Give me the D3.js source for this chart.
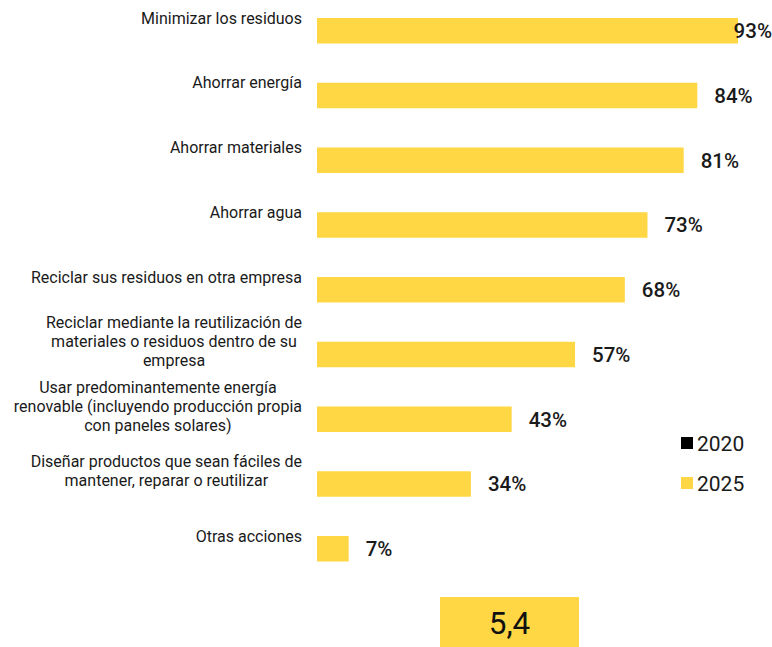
<!DOCTYPE html>
<html>
<head>
<meta charset="utf-8">
<script src="https://cdn.jsdelivr.net/npm/d3@7"></script>
<style>
  body { margin: 0; background: #fff; }
  text { font-family: Roboto, "Noto Sans", sans-serif; }
</style>
</head>
<body>
<script>
const width = 772;
const height = 647;

const categories = [
  "Minimizar los residuos",
  "Ahorrar energía",
  "Ahorrar materiales",
  "Ahorrar agua",
  "Reciclar sus residuos en otra empresa",
  "Reciclar mediante la reutilización de\nmateriales o residuos dentro de su\nempresa",
  "Usar predominantemente energía\nrenovable (incluyendo producción propia\ncon paneles solares)",
  "Diseñar productos que sean fáciles de\nmantener, reparar o reutilizar",
  "Otras acciones"
];
const values2025 = [93, 84, 81, 73, 68, 57, 43, 34, 7];
const legendKeys = ["2020", "2025"];
const legendColors = ["#000000", "#ffd744"];
const scoreLabel = "5,4";

const yellow = "#ffd744";

const svg = d3.select("body").append("svg")
  .attr("width", width)
  .attr("height", height);

const x = d3.scaleLinear()
  .domain([0, 100])
  .range([317, 317 + 452.7]);

const y = d3.scaleBand()
  .domain(categories)
  .range([18, 561.5])
  .paddingInner(0.606)
  .paddingOuter(0);

const rows = categories.map((c, i) => ({cat: c, value: values2025[i]}));

// bars
svg.append("g")
  .selectAll("rect")
  .data(rows)
  .join("rect")
  .attr("x", x(0))
  .attr("y", d => y(d.cat))
  .attr("width", d => x(d.value) - x(0))
  .attr("height", y.bandwidth())
  .attr("fill", yellow);

// category labels: block right edge at 302, lines centred, block centred on bar top
const lineH = 19;
const labelRight = 302;
const labels = svg.append("g")
  .attr("font-size", "16px")
  .attr("fill", "#1a1a1a")
  .attr("text-anchor", "middle")
  .selectAll("text")
  .data(rows)
  .join("text")
  .attr("y", d => {
    const n = d.cat.split("\n").length;
    return y(d.cat) - (n - 1) * lineH / 2;
  });

labels.selectAll("tspan")
  .data(d => d.cat.split("\n"))
  .join("tspan")
  .attr("dy", (d, i) => i === 0 ? "0.35em" : lineH)
  .text(d => d);

labels.each(function() {
  const spans = d3.select(this).selectAll("tspan");
  let maxW = 0;
  spans.each(function() { maxW = Math.max(maxW, this.getComputedTextLength()); });
  spans.attr("x", labelRight - maxW / 2);
});

// value labels
const vals = svg.append("g")
  .attr("font-size", "20.5px")
  .attr("font-weight", 500)
  .attr("fill", "#1a1a1a")
  .selectAll("text")
  .data(rows)
  .join("text")
  .attr("y", d => y(d.cat) + y.bandwidth() / 2)
  .attr("dy", "0.36em")
  .text(d => d.value + "%");

vals.attr("x", function(d) {
  const w = this.getComputedTextLength();
  return Math.min(x(d.value) + 17, width - w);
});

// legend
const legend = svg.append("g")
  .selectAll("g")
  .data(legendKeys)
  .join("g")
  .attr("transform", (d, i) => `translate(681, ${437 + i * 40})`);

legend.append("rect")
  .attr("width", 12)
  .attr("height", 12)
  .attr("fill", (d, i) => legendColors[i]);

legend.append("text")
  .attr("x", 16)
  .attr("y", 6)
  .attr("dy", "0.36em")
  .attr("font-size", "21px")
  .attr("fill", "#1a1a1a")
  .text(d => d);

// score box
svg.append("rect")
  .attr("x", 440)
  .attr("y", 597)
  .attr("width", 139)
  .attr("height", 50)
  .attr("fill", yellow);

svg.append("text")
  .attr("x", 509.5)
  .attr("y", 623)
  .attr("dy", "0.36em")
  .attr("text-anchor", "middle")
  .attr("font-size", "31.5px")
  .attr("fill", "#111")
  .text(scoreLabel);
</script>
</body>
</html>
